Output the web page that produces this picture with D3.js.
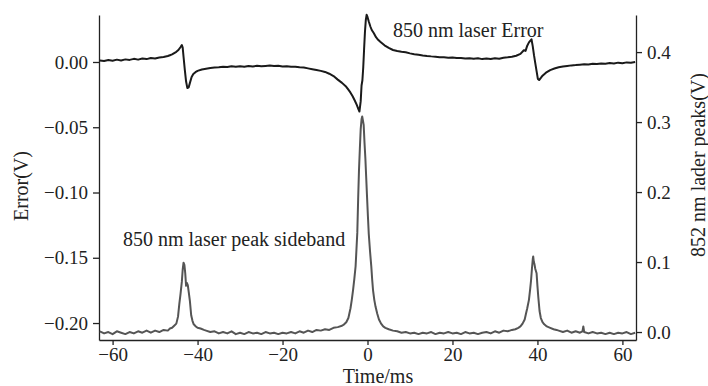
<!DOCTYPE html>
<html>
<head>
<meta charset="utf-8">
<script src="https://cdn.jsdelivr.net/npm/d3@7"></script>
<style>
    body { margin: 0; background: #fff; }
    svg { display: block; font-family: 'Liberation Serif', 'DejaVu Serif', serif; }
    .axis path, .axis line { stroke: #222; stroke-width: 1.3; }
    .axis text { font-family: 'Liberation Serif', serif; font-size: 19px; fill: #222; }
    .label { font-family: 'Liberation Serif', serif; font-size: 20px; fill: #222; }
</style>
</head>
<body>
<svg id="chart"></svg>
<script>
// data: [time ms, volts]

let errorSeries = [
    [-63, 0.0012], [-62, 0.0008], [-61, 0.0015], [-60, 0.0010], [-59, 0.0018], [-58, 0.0012],
    [-57, 0.0020], [-56, 0.0016], [-55, 0.0024], [-54, 0.0018], [-53, 0.0026], [-52, 0.0022],
    [-51, 0.0030], [-50, 0.0027], [-49, 0.0034], [-48, 0.0038], [-47, 0.0046], [-46.5, 0.0052],
    [-46, 0.0058], [-45.5, 0.0068], [-45, 0.0078], [-44.5, 0.0092], [-44, 0.0115], [-43.7, 0.0130],
    [-43.5, 0.0110], [-43.3, 0.0040], [-43.0, -0.0060], [-42.7, -0.0150], [-42.4, -0.0200],
    [-42.1, -0.0195], [-41.8, -0.0160], [-41.4, -0.0115], [-41.0, -0.0092], [-40.5, -0.0078],
    [-40, -0.0068], [-39, -0.0058], [-38, -0.0052], [-37, -0.0046], [-36, -0.0043], [-35, -0.0040],
    [-34, -0.0036], [-33, -0.0039], [-32, -0.0033], [-31, -0.0037], [-30, -0.0032], [-29, -0.0036],
    [-28, -0.0030], [-27, -0.0034], [-26, -0.0029], [-25, -0.0033], [-24, -0.0030], [-23, -0.0027],
    [-22, -0.0031], [-21, -0.0028], [-20, -0.0034], [-19, -0.0032], [-18, -0.0037], [-17, -0.0036],
    [-16, -0.0041], [-15, -0.0043], [-14, -0.0049], [-13, -0.0055], [-12, -0.0061], [-11, -0.0068],
    [-10, -0.0076], [-9, -0.0090], [-8, -0.0108], [-7, -0.0135], [-6, -0.0160], [-5, -0.0190],
    [-4.5, -0.0212], [-4, -0.0235], [-3.5, -0.0262], [-3, -0.0295], [-2.5, -0.0330], [-2.1, -0.0365],
    [-1.9, -0.0380], [-1.6, -0.0300], [-1.4, -0.0180], [-1.2, -0.0140], [-1.0, -0.0040],
    [-0.8, 0.0100], [-0.6, 0.0230], [-0.4, 0.0320], [-0.2, 0.0362], [0, 0.0345], [0.3, 0.0310],
    [0.7, 0.0270], [1.0, 0.0245], [1.5, 0.0220], [2, 0.0190], [2.5, 0.0170], [3, 0.0155],
    [4, 0.0128], [5, 0.0108], [6, 0.0092], [7, 0.0084], [8, 0.0078], [9, 0.0074], [10, 0.0066],
    [11, 0.0060], [12, 0.0055], [13, 0.0050], [14, 0.0046], [15, 0.0043], [16, 0.0041],
    [17, 0.0037], [18, 0.0036], [19, 0.0033], [20, 0.0035], [21, 0.0030], [22, 0.0031],
    [23, 0.0027], [24, 0.0029], [25, 0.0024], [26, 0.0028], [27, 0.0022], [28, 0.0026],
    [29, 0.0023], [30, 0.0029], [31, 0.0025], [32, 0.0033], [33, 0.0036], [34, 0.0040],
    [35, 0.0048], [36, 0.0062], [36.8, 0.0090], [37.2, 0.0085], [37.6, 0.0125], [38, 0.0150],
    [38.6, 0.0174], [38.9, 0.0120], [39.2, 0.0050], [39.5, -0.0010], [39.8, -0.0070],
    [40.1, -0.0130], [40.4, -0.0138], [40.8, -0.0122], [41.2, -0.0105], [42, -0.0082],
    [43, -0.0062], [44, -0.0050], [45, -0.0040], [46, -0.0034], [47, -0.0030], [48, -0.0026],
    [49, -0.0024], [50, -0.0021], [51, -0.0018], [52, -0.0020], [53, -0.0014], [54, -0.0016],
    [55, -0.0011], [56, -0.0013], [57, -0.0008], [58, -0.0011], [59, -0.0005], [60, -0.0009],
    [61, -0.0003], [62, -0.0006], [63, 0.0000]
];

let peakSeries = [
    [-63, 0.001], [-62, -0.002], [-61, 0.000], [-60, -0.003], [-59, 0.001], [-58, -0.001],
    [-57, -0.003], [-56, 0.000], [-55, -0.002], [-54, 0.001], [-53, -0.001], [-52, 0.002],
    [-51, -0.001], [-50, 0.002], [-49, 0.000], [-48, 0.003], [-47, 0.002], [-46.5, 0.005],
    [-46, 0.006], [-45.5, 0.009], [-45, 0.012], [-44.6, 0.022], [-44.3, 0.040], [-44.0, 0.055],
    [-43.7, 0.072], [-43.5, 0.089], [-43.3, 0.099], [-43.1, 0.096], [-42.9, 0.084], [-42.7, 0.066],
    [-42.5, 0.070], [-42.3, 0.067], [-42.1, 0.058], [-41.8, 0.044], [-41.5, 0.024], [-41.2, 0.016],
    [-40.9, 0.011], [-40.4, 0.008], [-40, 0.006], [-39.3, 0.005], [-38.5, 0.003], [-38, 0.002],
    [-37, 0.000], [-36, 0.001], [-35, -0.002], [-34, 0.000], [-33, -0.002], [-32, 0.001],
    [-31, -0.003], [-30, -0.001], [-29, -0.003], [-28, 0.000], [-27, -0.002], [-26, -0.001],
    [-25, -0.003], [-24, 0.000], [-23, -0.002], [-22, -0.001], [-21, -0.003], [-20, -0.001],
    [-19, -0.002], [-18, 0.000], [-17, -0.002], [-16, 0.001], [-15, -0.001], [-14, 0.002],
    [-13, 0.000], [-12, 0.003], [-11, 0.002], [-10, 0.004], [-9, 0.003], [-8, 0.006],
    [-7, 0.007], [-6, 0.009], [-5.5, 0.011], [-5, 0.014], [-4.5, 0.020], [-4.0, 0.034],
    [-3.7, 0.046], [-3.4, 0.060], [-3.1, 0.076], [-2.8, 0.094], [-2.6, 0.118], [-2.4, 0.142],
    [-2.2, 0.190], [-2.0, 0.232], [-1.8, 0.262], [-1.6, 0.290], [-1.4, 0.304], [-1.25, 0.308],
    [-1.1, 0.303], [-0.9, 0.296], [-0.7, 0.270], [-0.5, 0.248], [-0.3, 0.220], [-0.1, 0.192],
    [0.1, 0.165], [0.3, 0.140], [0.6, 0.115], [0.9, 0.093], [1.1, 0.075], [1.3, 0.060],
    [1.6, 0.046], [1.9, 0.036], [2.3, 0.026], [2.7, 0.018], [3.2, 0.012], [3.7, 0.008],
    [4.2, 0.006], [5, 0.004], [6, 0.002], [7, 0.001], [8, -0.001], [9, 0.000], [10, -0.002],
    [11, -0.001], [12, -0.003], [13, -0.001], [14, -0.002], [15, 0.000], [16, -0.003],
    [17, -0.001], [18, -0.002], [19, 0.000], [20, -0.002], [21, -0.001], [22, -0.003],
    [23, 0.000], [24, -0.002], [25, -0.001], [26, -0.003], [27, -0.001], [28, 0.000],
    [29, -0.002], [30, 0.001], [31, -0.001], [32, 0.002], [33, 0.001], [34, 0.003],
    [34.8, 0.004], [35.5, 0.006], [36, 0.008], [36.5, 0.012], [37.0, 0.018], [37.3, 0.026],
    [37.6, 0.034], [38.0, 0.046], [38.3, 0.062], [38.5, 0.074], [38.7, 0.090], [38.9, 0.104],
    [39.0, 0.108], [39.15, 0.100], [39.3, 0.097], [39.5, 0.090], [39.8, 0.084], [40.0, 0.066],
    [40.2, 0.050], [40.5, 0.030], [40.8, 0.020], [41.2, 0.014], [41.6, 0.011], [42.2, 0.008],
    [43, 0.006], [43.8, 0.004], [44.5, 0.003], [45, 0.002], [46, 0.000], [47, 0.002],
    [48, -0.001], [49, 0.001], [50, -0.001], [50.6, 0.001], [50.8, 0.008], [51.0, 0.000],
    [52, -0.002], [53, 0.000], [54, -0.002], [55, -0.001], [56, -0.003], [57, -0.001],
    [58, -0.003], [59, -0.001], [60, -0.002], [61, 0.000], [62, -0.003], [63, -0.001]
];

let xTicks = [-60, -40, -20, 0, 20, 40, 60];
let leftTicks = [0.00, -0.05, -0.10, -0.15, -0.20];
let rightTicks = [0.0, 0.1, 0.2, 0.3, 0.4];

// sizes

let width = 708;
let height = 386;
let plotLeft = 99;
let plotRight = 636;
let plotTop = 15;
let plotBottom = 340;

// scales

let xScale = d3.scaleLinear()
    .domain([-63.2, 63.2])
    .range([plotLeft, plotRight]);

let yLeft = d3.scaleLinear()
    .domain([-0.213, 0.036])
    .range([plotBottom, plotTop]);

let yRight = d3.scaleLinear()
    .domain([-0.0114, 0.453])
    .range([plotBottom, plotTop]);

let svg = d3.select('#chart')
    .attr('width', width)
    .attr('height', height);

// axes

svg.append('g')
    .attr('class', 'axis')
    .attr('transform', `translate(0, ${plotBottom})`)
    .call(d3.axisBottom(xScale)
        .tickValues(xTicks)
        .tickFormat(d3.format('d'))
        .tickSize(5)
        .tickSizeOuter(0)
        .tickPadding(3));

svg.append('g')
    .attr('class', 'axis')
    .attr('transform', `translate(${plotLeft}, 0)`)
    .call(d3.axisLeft(yLeft)
        .tickValues(leftTicks)
        .tickFormat(d3.format('.2f'))
        .tickSize(6)
        .tickSizeOuter(0)
        .tickPadding(5));

svg.append('g')
    .attr('class', 'axis')
    .attr('transform', `translate(${plotRight}, 0)`)
    .call(d3.axisRight(yRight)
        .tickValues(rightTicks)
        .tickFormat(d3.format('.1f'))
        .tickSize(6)
        .tickSizeOuter(0)
        .tickPadding(5));

// axis titles

svg.append('text')
    .attr('class', 'label')
    .attr('x', 378)
    .attr('y', 383)
    .attr('text-anchor', 'middle')
    .text('Time/ms');

svg.append('text')
    .attr('class', 'label')
    .attr('transform', 'translate(28, 186) rotate(-90)')
    .attr('text-anchor', 'middle')
    .text('Error(V)');

svg.append('text')
    .attr('class', 'label')
    .attr('transform', 'translate(705, 165) rotate(-90)')
    .attr('text-anchor', 'middle')
    .text('852 nm lader peaks(V)');

// lines

let peakLine = d3.line()
    .x(d => xScale(d[0]))
    .y(d => yRight(d[1]));

let errorLine = d3.line()
    .x(d => xScale(d[0]))
    .y(d => yLeft(d[1]));

svg.append('path')
    .datum(peakSeries)
    .attr('d', peakLine)
    .style('fill', 'none')
    .style('stroke', '#555')
    .style('stroke-width', 2)
    .style('stroke-linejoin', 'round');

svg.append('path')
    .datum(errorSeries)
    .attr('d', errorLine)
    .style('fill', 'none')
    .style('stroke', '#1a1a1a')
    .style('stroke-width', 2)
    .style('stroke-linejoin', 'round');

// annotations

svg.append('text')
    .attr('class', 'label')
    .attr('x', 393)
    .attr('y', 37)
    .text('850 nm laser Error');

svg.append('text')
    .attr('class', 'label')
    .attr('x', 123)
    .attr('y', 246)
    .text('850 nm laser peak sideband');
</script>
</body>
</html>
